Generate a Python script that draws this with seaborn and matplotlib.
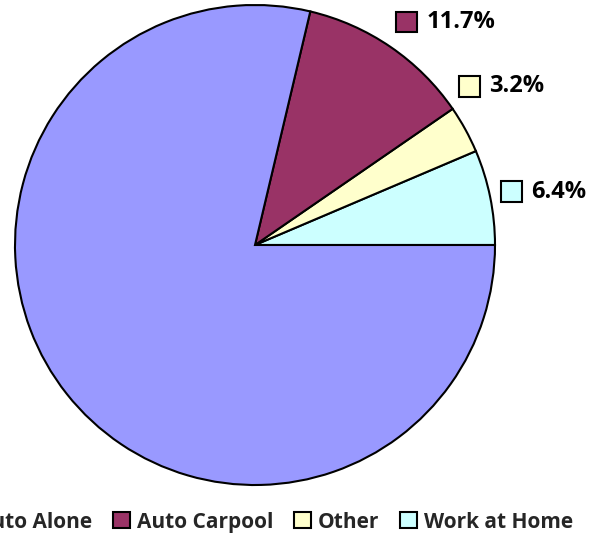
import numpy as np
import matplotlib
matplotlib.use("Agg")
import matplotlib.pyplot as plt
import seaborn as sns
from matplotlib.patches import Patch, Rectangle
from matplotlib.offsetbox import AnnotationBbox, HPacker, DrawingArea, TextArea

categories = ["Auto Alone", "Auto Carpool", "Other", "Work at Home"]
shares = [78.7, 11.7, 3.2, 6.4]
colors = ["#9999FF", "#993366", "#FFFFCC", "#CCFFFF"]
show_label = [False, True, True, True]
# excel's best-fit nudges the labels a little off the wedge middle
label_nudge = [0, -6, 4, -1]

sns.set_style("white")
plt.rcParams['font.family'] = ['Open Sans', 'DejaVu Sans']
plt.rcParams['font.weight'] = 'bold'

fig = plt.figure(figsize=(5.98, 5.37), dpi=100)
ax = fig.add_axes([15 / 598, 52 / 537, 480 / 598, 480 / 537])

# excel draws from 3 o'clock counterclockwise in reversed order here
order = [3, 2, 1, 0]
vals = [shares[i] for i in order]
cols = [colors[i] for i in order]
wedges, _ = ax.pie(vals, colors=cols, startangle=0, counterclock=True,
                   wedgeprops={'edgecolor': 'black', 'linewidth': 1.5})
ax.set_xlim(-1, 1)
ax.set_ylim(-1, 1)
ax.set_aspect('equal')
ax.axis('off')

fs = 17
for w, i in zip(wedges, order):
    if not show_label[i]:
        continue
    mid = np.deg2rad((w.theta1 + w.theta2) / 2 + label_nudge[i])
    r = 1.22
    c, s = np.cos(mid), np.sin(mid)
    da = DrawingArea(17, 17, 0, 0)
    da.add_artist(Rectangle((1, 1), 15, 15, facecolor=colors[i], edgecolor='black', lw=1.5))
    ta = TextArea(f"{shares[i]:.1f}%", textprops=dict(fontsize=fs, fontweight='bold', color='black'))
    box = HPacker(children=[da, ta], align='center', pad=0, sep=6)
    ab = AnnotationBbox(box, (r * c, r * s), frameon=False,
                        box_alignment=(0.5, 0.5), annotation_clip=False)
    ax.add_artist(ab)

handles = [Patch(facecolor=c, edgecolor='black', linewidth=1.5) for c in colors]
leg = fig.legend(handles, categories, loc='lower right', bbox_to_anchor=(586 / 598, -0.015),
                 ncol=4, frameon=False, fontsize=15, handlelength=0.8, handleheight=0.8,
                 handletextpad=0.35, columnspacing=1.0, borderaxespad=0.2)
for t in leg.get_texts():
    t.set_fontweight('bold')

fig.savefig("out.png", dpi=100)
